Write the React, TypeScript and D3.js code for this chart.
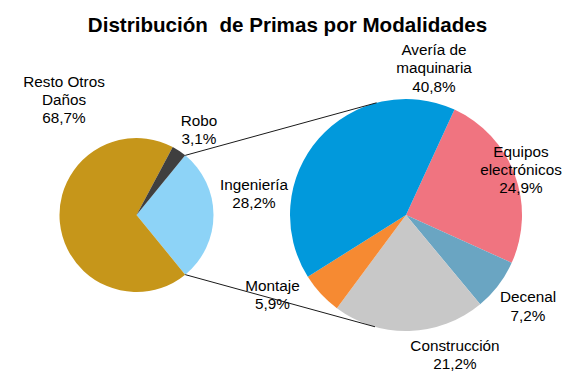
import React from "react";
import * as d3 from "d3";

const title = "Distribución  de Primas por Modalidades";

// Primary pie (clockwise starting from the split slice)
const mainCategories = ["Ingeniería", "Resto Otros Daños", "Robo"];
const mainValues = [28.2, 68.7, 3.1];
const mainColors = ["#8DD3F7", "#C6961A", "#3F3F3F"];

// Secondary pie (breakdown of Ingeniería)
const subCategories = ["Equipos electrónicos", "Decenal", "Construcción", "Montaje", "Avería de maquinaria"];
const subValues = [24.9, 7.2, 21.2, 5.9, 40.8];
const subColors = ["#F07480", "#6AA5C2", "#C8C8C8", "#F68A32", "#0199DC"];

// label lines and their anchor positions (layout only)
const labelLines: Record<string, string[]> = {
  "Ingeniería": ["Ingeniería"],
  "Resto Otros Daños": ["Resto Otros", "Daños"],
  "Robo": ["Robo"],
  "Equipos electrónicos": ["Equipos", "electrónicos"],
  "Decenal": ["Decenal"],
  "Construcción": ["Construcción"],
  "Montaje": ["Montaje"],
  "Avería de maquinaria": ["Avería de", "maquinaria"],
};
const labelPos: Record<string, [number, number]> = {
  "Ingeniería": [254, 189.5],
  "Resto Otros Daños": [64, 86.7],
  "Robo": [199, 125.7],
  "Equipos electrónicos": [521, 156.7],
  "Decenal": [528, 302.3],
  "Construcción": [455, 350.7],
  "Montaje": [272.5, 290.7],
  "Avería de maquinaria": [434, 55],
};

const W = 567, H = 379;
const LC = { x: 136.5, y: 215, r: 77 };
const RC = { x: 406, y: 215, r: 116 };
const LH = 18.3;
const fmt = (v: number) => d3.format(".1f")(v).replace(".", ",") + "%";
const rad = (deg: number) => (deg * Math.PI) / 180;

export default function App() {
  const total = d3.sum(mainValues);
  const mainStart = Math.PI / 2 - (mainValues[0] / total) * Math.PI;
  const mainPie = d3.pie<number>().sort(null).value((d) => d)
    .startAngle(mainStart).endAngle(mainStart + 2 * Math.PI);
  const subStart = rad(24.7);
  const subPie = d3.pie<number>().sort(null).value((d) => d)
    .startAngle(subStart).endAngle(subStart + 2 * Math.PI);
  const mainArcs = mainPie(mainValues);
  const subArcs = subPie(subValues);
  const arcL = d3.arc<d3.PieArcDatum<number>>().innerRadius(0).outerRadius(LC.r);
  const arcR = d3.arc<d3.PieArcDatum<number>>().innerRadius(0).outerRadius(RC.r);

  const pt = (c: typeof LC, a: number) => [c.x + c.r * Math.sin(a), c.y - c.r * Math.cos(a)];
  const a0 = mainArcs[0].startAngle, a1 = mainArcs[0].endAngle;
  const l1 = pt(LC, a0), l2 = pt(LC, a1);
  const r1 = pt(RC, rad(-14.7)), r2 = pt(RC, rad(195.5));

  const renderLabel = (name: string, value: number) => {
    const [x, y] = labelPos[name];
    const lines = [...labelLines[name], fmt(value)];
    return (
      <text key={name} x={x} y={y} textAnchor="middle" fontSize={15.3}
        fontFamily="'Liberation Sans', Arial, sans-serif" fill="#000">
        {lines.map((t, i) => (
          <tspan key={i} x={x} y={y + i * LH}>{t}</tspan>
        ))}
      </text>
    );
  };

  return (
    <svg width={W} height={H} style={{ position: "absolute", left: 0, top: 0, background: "#fff" }}>
      <text x={287.5} y={31.5} textAnchor="middle" fontSize={20.6} fontWeight="bold"
        fontFamily="'Liberation Sans', Arial, sans-serif" fill="#000" style={{ whiteSpace: "pre" }}>
        {title}
      </text>
      <g transform={`translate(${LC.x},${LC.y})`}>
        {mainArcs.map((d, i) => (
          <path key={i} d={arcL(d) || ""} fill={mainColors[i]} />
        ))}
      </g>
      <g transform={`translate(${RC.x},${RC.y})`}>
        {subArcs.map((d, i) => (
          <path key={i} d={arcR(d) || ""} fill={subColors[i]} />
        ))}
      </g>
      <line x1={l1[0]} y1={l1[1]} x2={r1[0]} y2={r1[1]} stroke="#1a1a1a" strokeWidth={1} />
      <line x1={l2[0]} y1={l2[1]} x2={r2[0]} y2={r2[1]} stroke="#1a1a1a" strokeWidth={1} />
      {mainCategories.map((c, i) => renderLabel(c, mainValues[i]))}
      {subCategories.map((c, i) => renderLabel(c, subValues[i]))}
    </svg>
  );
}
